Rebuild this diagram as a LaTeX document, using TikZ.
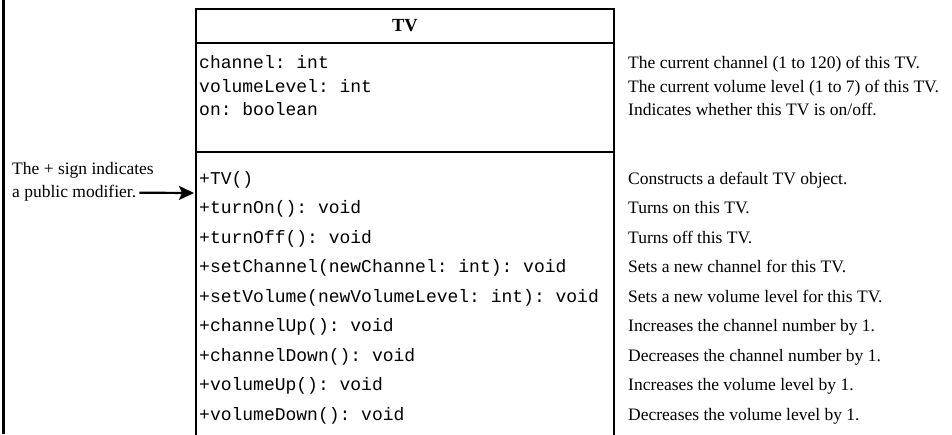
\documentclass[tikz,border=0pt]{standalone}
\usepackage{fontspec}
\setmainfont{Liberation Serif}
\setmonofont{Liberation Mono}
\usetikzlibrary{arrows.meta}
\tikzset{
    member-text/.style = {anchor=base west, inner sep=0pt, font=\ttfamily\fontsize{18}{20}\selectfont},
    desc-text/.style = {anchor=base west, inner sep=0pt, font=\fontsize{17.5}{20}\selectfont},
    uml-line/.style = {draw=black, line width=1.3pt},
    note-arrow/.style = {line width=2.2pt, -{Stealth[length=15pt, width=14pt, inset=3pt]}},
}

\begin{document}
\begin{tikzpicture}[x=1pt, y=-1pt]
\useasboundingbox (0,0) rectangle (952,434);
\draw[line width=3pt] (3,0) -- (3,434);
% class box, open at the bottom
\draw[uml-line] (196,436) -- (196,9) -- (614,9) -- (614,436);
\draw[uml-line] (196,43) -- (614,43);
\draw[uml-line] (196,152) -- (614,152);
\node[font=\bfseries\fontsize{18.5}{20}\selectfont] (tv-title) at (405,26) {TV};
% data fields
\node[member-text] (attr-channel) at (199,68) {channel: int};
\node[member-text] (attr-volume) at (199,92) {volumeLevel: int};
\node[member-text] (attr-on) at (199,115) {on: boolean};
% methods
\node[member-text] (op-tv) at (199,184) {+TV()};
\node[member-text] (op-turn-on) at (199,213.5) {+turnOn(): void};
\node[member-text] (op-turn-off) at (199,243) {+turnOff(): void};
\node[member-text] (op-set-channel) at (199,272.5) {+setChannel(newChannel: int): void};
\node[member-text] (op-set-volume) at (199,302) {+setVolume(newVolumeLevel: int): void};
\node[member-text] (op-channel-up) at (199,331.5) {+channelUp(): void};
\node[member-text] (op-channel-down) at (199,361) {+channelDown(): void};
\node[member-text] (op-volume-up) at (199,390.5) {+volumeUp(): void};
\node[member-text] (op-volume-down) at (199,420) {+volumeDown(): void};
% descriptions
\node[desc-text] (desc-channel) at (628,68) {The current channel (1 to 120) of this TV.};
\node[desc-text] (desc-volume) at (628,92) {The current volume level (1 to 7) of this TV.};
\node[desc-text] (desc-on) at (628,115) {Indicates whether this TV is on/off.};
\node[desc-text] (desc-tv) at (628,184) {Constructs a default TV object.};
\node[desc-text] (desc-turn-on) at (628,213.5) {Turns on this TV.};
\node[desc-text] (desc-turn-off) at (628,243) {Turns off this TV.};
\node[desc-text] (desc-set-channel) at (628,272.5) {Sets a new channel for this TV.};
\node[desc-text] (desc-set-volume) at (628,302) {Sets a new volume level for this TV.};
\node[desc-text] (desc-channel-up) at (628,331.5) {Increases the channel number by 1.};
\node[desc-text] (desc-channel-down) at (628,361) {Decreases the channel number by 1.};
\node[desc-text] (desc-volume-up) at (628,390.5) {Increases the volume level by 1.};
\node[desc-text] (desc-volume-down) at (628,420) {Decreases the volume level by 1.};
% the note on the left
\node[desc-text] (note-1) at (12,174) {The + sign indicates};
\node[desc-text] (note-2) at (12,197) {a public modifier.};
\coordinate (tv-left) at (194,193);
\draw[note-arrow] ([xshift=3pt]note-2.east) -- (tv-left);
\end{tikzpicture}
\end{document}
